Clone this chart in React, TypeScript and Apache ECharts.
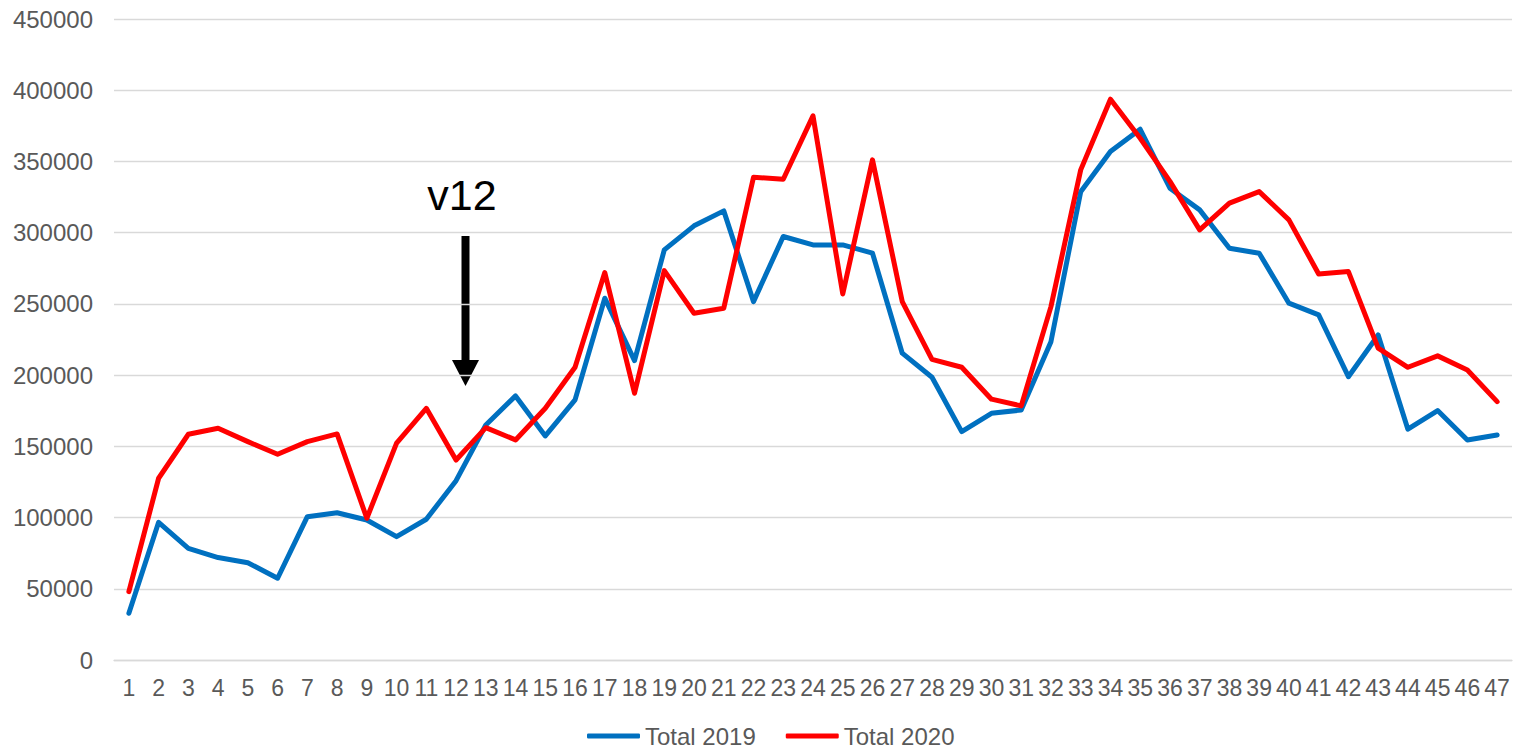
import React, { useEffect, useRef } from "react";
import * as echarts from "echarts";

const weeks: string[] = Array.from({ length: 47 }, (_, i) => String(i + 1));

const total2019: number[] = [
  32800, 96700, 78400, 71900, 68300, 57400, 100600, 103400, 98300, 86600,
  98800, 125900, 165000, 185400, 157300, 182600, 254000, 210200, 287900, 304800,
  315300, 251600, 297300, 291400, 291400, 285600, 215400, 198500, 160300, 173200,
  175500, 223500, 328800, 356900, 372600, 331200, 316000, 289100, 285600, 250500,
  242300, 198900, 228200, 162000, 175100, 154500, 158000,
];

const total2020: number[] = [
  48000, 127600, 158500, 162700, 153300, 144400, 153300, 158700, 99500, 152200,
  176700, 140400, 163100, 154500, 176700, 205500, 272000, 187300, 273400, 243400,
  247000, 338900, 337500, 382000, 257000, 351100, 251600, 211100, 205500, 183100,
  178400, 248100, 344100, 393700, 366300, 336000, 302000, 320700, 328800, 309000,
  271000, 272700, 218900, 205500, 213500, 203600, 181400,
];

const seriesNames = ["Total 2019", "Total 2020"];
const annotationText = "v12";

const FONT = "'Liberation Sans', Arial, sans-serif";

export default function App() {
  const ref = useRef<HTMLDivElement>(null);

  useEffect(() => {
    if (!ref.current) return;
    const chart = echarts.init(ref.current, undefined, { renderer: "svg" });
    chart.setOption({
      animation: false,
      textStyle: { fontFamily: FONT },
      grid: { left: 114, right: 6, top: 19, bottom: 91, containLabel: false },
      legend: {
        left: 587,
        top: 724,
        padding: 0,
        data: seriesNames,
        icon: "roundRect",
        itemWidth: 53,
        itemHeight: 5,
        itemGap: 30,
        textStyle: { color: "#595959", fontSize: 24, fontFamily: FONT },
      },
      xAxis: {
        type: "category",
        data: weeks,
        boundaryGap: true,
        axisLine: { show: true, lineStyle: { color: "#d9d9d9", width: 1.3 } },
        axisTick: { show: false },
        axisLabel: {
          color: "#595959",
          fontSize: 23,
          fontFamily: FONT,
          margin: 16,
          interval: 0,
        },
      },
      yAxis: {
        type: "value",
        min: 0,
        max: 450000,
        interval: 50000,
        axisLine: { show: false },
        axisTick: { show: false },
        axisLabel: {
          color: "#595959",
          fontSize: 24,
          fontFamily: FONT,
          margin: 21,
          formatter: (v: number) => String(v),
        },
        splitLine: { lineStyle: { color: "#d9d9d9", width: 1.3 } },
      },
      series: [
        {
          name: seriesNames[0],
          type: "line",
          data: total2019,
          showSymbol: false,
          symbol: "none",
          lineStyle: { color: "#0070C0", width: 5, join: "round", cap: "round" },
          itemStyle: { color: "#0070C0" },
        },
        {
          name: seriesNames[1],
          type: "line",
          data: total2020,
          showSymbol: false,
          symbol: "none",
          lineStyle: { color: "#FF0000", width: 5, join: "round", cap: "round" },
          itemStyle: { color: "#FF0000" },
        },
      ],
      graphic: [
        {
          type: "text",
          x: 462,
          y: 216,
          style: {
            text: annotationText,
            fill: "#000000",
            font: `43px ${FONT}`,
            textAlign: "center",
            textVerticalAlign: "bottom",
          },
        },
        {
          type: "rect",
          shape: { x: 461.5, y: 236, width: 8, height: 126 },
          style: { fill: "#000000" },
        },
        {
          type: "polygon",
          shape: { points: [[452, 360], [479, 360], [465.5, 386]] },
          style: { fill: "#000000" },
        },
      ],
    });
    return () => chart.dispose();
  }, []);

  return (
    <div
      ref={ref}
      style={{ position: "fixed", left: 0, top: 0, width: 1518, height: 751, background: "#fff" }}
    />
  );
}
